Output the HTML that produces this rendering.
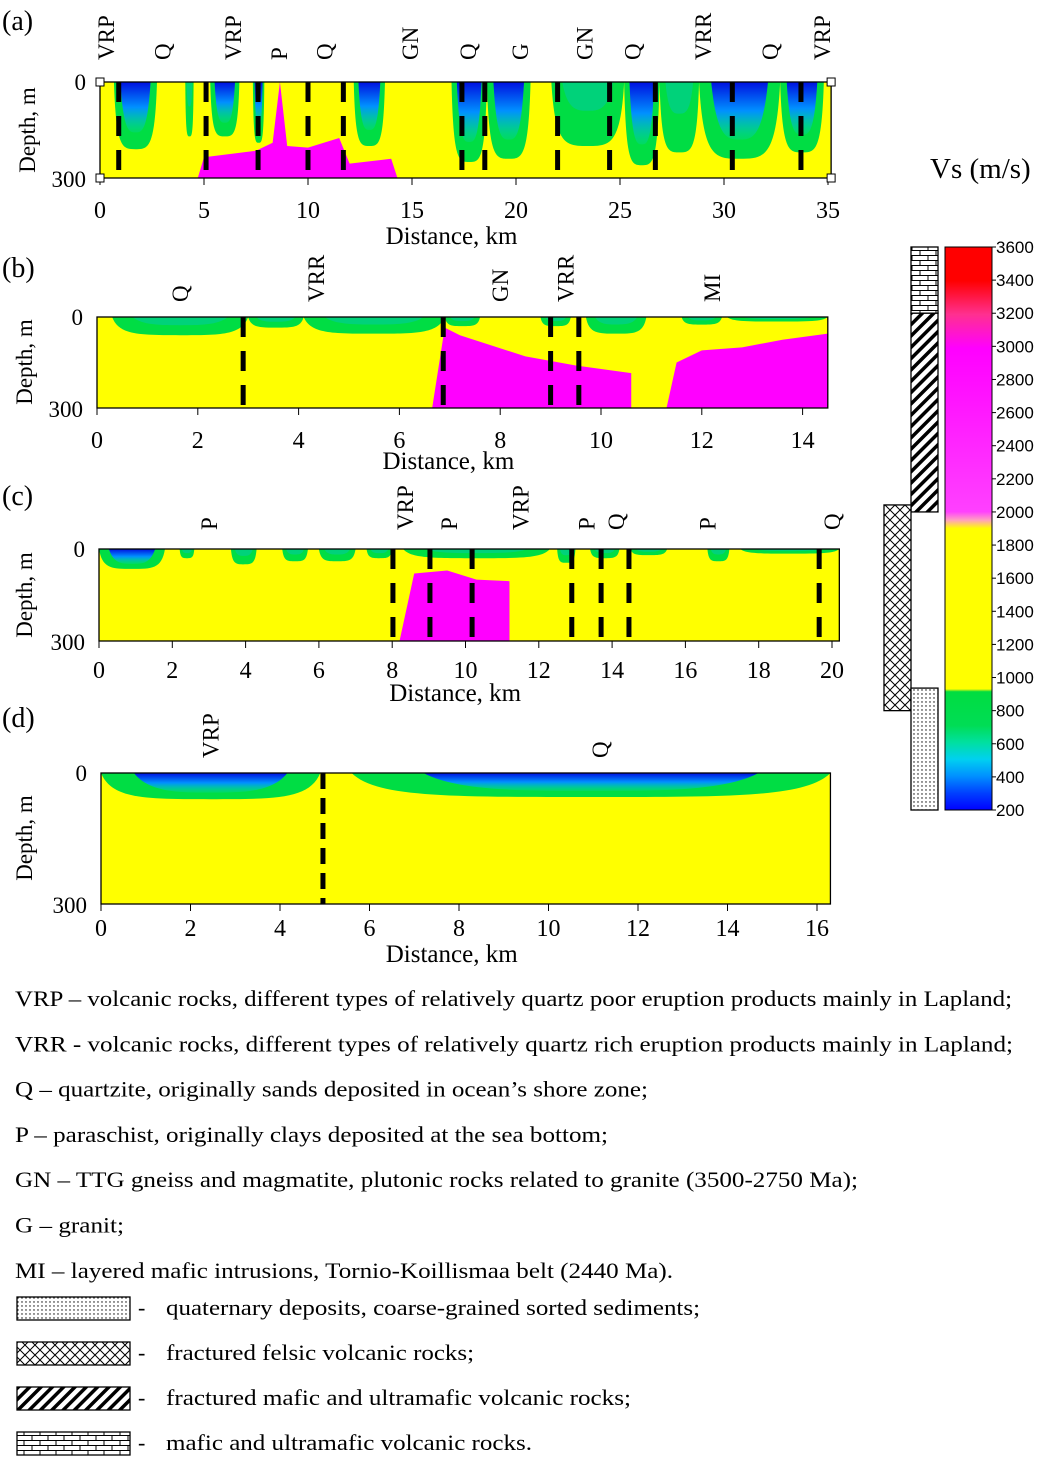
<!DOCTYPE html>
<html><head><meta charset="utf-8">
<style>
html,body{margin:0;padding:0;background:#fff;}
svg{display:block;font-family:"Liberation Serif",serif;}
</style></head>
<body>
<svg id="fig" width="1052" height="1464" viewBox="0 0 1052 1464" xmlns="http://www.w3.org/2000/svg">
<defs>
<linearGradient id="cbar" x1="0" y1="1" x2="0" y2="0">
<stop offset="0" stop-color="#0000ff"/><stop offset="0.03" stop-color="#0040ff"/>
<stop offset="0.06" stop-color="#0090ff"/><stop offset="0.09" stop-color="#00d0f0"/>
<stop offset="0.12" stop-color="#00e0a0"/><stop offset="0.15" stop-color="#00dd55"/>
<stop offset="0.21" stop-color="#00dd40"/><stop offset="0.215" stop-color="#ffff00"/>
<stop offset="0.5" stop-color="#ffff00"/><stop offset="0.515" stop-color="#ffa0c0"/>
<stop offset="0.53" stop-color="#ff40ff"/><stop offset="0.82" stop-color="#ff00ff"/>
<stop offset="0.88" stop-color="#ff3090"/><stop offset="0.94" stop-color="#ff0000"/>
<stop offset="1" stop-color="#ff0000"/>
</linearGradient>
<linearGradient id="blueg" x1="0" y1="0" x2="0" y2="1">
<stop offset="0" stop-color="#0010e0"/><stop offset="0.5" stop-color="#0090ff"/><stop offset="1" stop-color="#00d0d0" stop-opacity="0.2"/>
</linearGradient>
<pattern id="dots" width="4" height="4" patternUnits="userSpaceOnUse"><rect width="4" height="4" fill="#fff"/><circle cx="2" cy="2" r="0.7" fill="#000"/></pattern>
<pattern id="hatch" width="8" height="8" patternUnits="userSpaceOnUse" patternTransform="rotate(45)"><rect width="8" height="8" fill="#fff"/><rect width="3.5" height="8" fill="#000"/></pattern>
<pattern id="cross" width="10" height="10" patternUnits="userSpaceOnUse"><rect width="10" height="10" fill="#fff"/><path d="M0 0 L5 5 L10 0 M0 10 L5 5 L10 10" stroke="#000" stroke-width="1" fill="none"/></pattern>
<pattern id="brick" width="16" height="10" patternUnits="userSpaceOnUse"><rect width="16" height="10" fill="#fff"/><path d="M0 0.5 H16 M0 5.5 H16 M8 0.5 V5.5 M0 5.5 V10 M16 5.5 V10" stroke="#000" stroke-width="1" fill="none"/></pattern>
</defs>
<g id="panels"></g>
<g id="cb"></g>
<g id="legend"></g>
</svg>
<script>
const NS="http://www.w3.org/2000/svg";
const svg=document.getElementById('fig');
function mk(tag,attrs,parent){const e=document.createElementNS(NS,tag);for(const k in attrs)e.setAttribute(k,attrs[k]);(parent||svg).appendChild(e);return e;}

// ---------- DATA ----------
const aFaults=[0.9,5.1,7.6,10.0,11.7,17.4,18.5,22.0,24.5,26.7,30.4,33.7];
const aLabels=["VRP","Q","VRP","P","Q","GN","Q","G","GN","Q","VRR","Q","VRP"];
const aLabelKm=[0.3,3.0,6.4,8.6,10.8,14.9,17.7,20.2,23.3,25.6,29.0,32.2,34.7];
const aTicks=[0,5,10,15,20,25,30,35];
const aPockets=[[0.67,2.74,210,1],[4.1,4.5,170,0],[5.3,6.7,170,1],[7.35,7.9,190,1],[12.2,13.7,200,1],[16.9,18.6,250,1],[18.6,20.7,240,1],[21.7,25.2,200,0],[25.2,26.9,260,1],[26.9,28.8,220,0],[28.8,32.7,240,1],[32.7,34.8,220,1]];
const aMagKm=[4.7,5.0,7.5,8.3,8.65,9.0,10.0,11.5,12.0,14.0,14.3];
const aMagM=[300,235,215,190,0,200,205,175,255,240,300];

const bFaults=[2.9,6.87,9.0,9.56];
const bLabels=["Q","VRR","GN","VRR","MI"];
const bLabelKm=[1.65,4.35,8.0,9.3,12.2];
const bTicks=[0,2,4,6,8,10,12,14];
const bPockets=[[0.3,3.0,60,0],[3.0,4.1,35,0],[4.1,6.9,55,0],[6.9,7.6,30,0],[8.8,9.4,30,0],[9.7,10.9,55,0],[11.6,12.4,25,0],[12.5,14.5,15,0]];
const bMag1Km=[6.65,6.9,7.2,8.5,9.5,10.6,10.6];
const bMag1M=[300,35,60,130,160,185,300];
const bMag2Km=[11.3,11.5,12.0,12.8,13.6,14.5,14.5];
const bMag2M=[300,150,110,100,75,55,300];

const cFaults=[8.02,9.03,10.18,12.9,13.7,14.46,19.65];
const cLabels=["P","VRP","P","VRP","P","Q","P","Q"];
const cLabelKm=[3.0,8.35,9.55,11.5,13.3,14.1,16.6,20.0];
const cTicks=[0,2,4,6,8,10,12,14,16,18,20];
const cPockets=[[0,1.8,65,1],[2.2,2.6,30,0],[3.6,4.3,50,0],[5.0,5.7,40,0],[6.0,7.0,40,0],[7.3,8.0,30,0],[8.3,12.3,30,0],[12.5,13.0,45,0],[13.4,14.2,30,0],[14.5,15.5,20,0],[16.6,17.2,40,0],[17.5,20.2,15,0]];
const cMagKm=[8.2,8.6,9.5,10.3,11.2,11.2];
const cMagM=[300,80,70,100,105,300];

const dFaults=[4.96];
const dLabels=["VRP","Q"];
const dLabelKm=[2.45,11.15];
const dTicks=[0,2,4,6,8,10,12,14,16];
const dPockets=[[0,4.9,60,1],[5.6,16.3,55,1]];

const cbTicks=[3600,3400,3200,3000,2800,2600,2400,2200,2000,1800,1600,1400,1200,1000,800,600,400,200];

// ---------- PANELS ----------
const panels=[
 {id:'a',letter:'(a)',x0:100,kmPx:20.8,maxKm:35.15,y0:82,y1:178,ticks:aTicks,faults:aFaults,labels:aLabels,labelKm:aLabelKm,pockets:aPockets,mags:[[aMagKm,aMagM]],labY:60,tickY:218,titleY:244,letterY:30,depY:130},
 {id:'b',letter:'(b)',x0:97,kmPx:50.4,maxKm:14.5,y0:317,y1:408,ticks:bTicks,faults:bFaults,labels:bLabels,labelKm:bLabelKm,pockets:bPockets,mags:[[bMag1Km,bMag1M],[bMag2Km,bMag2M]],labY:302,tickY:448,titleY:469,letterY:277,depY:362},
 {id:'c',letter:'(c)',x0:99,kmPx:36.65,maxKm:20.2,y0:549,y1:641,ticks:cTicks,faults:cFaults,labels:cLabels,labelKm:cLabelKm,pockets:cPockets,mags:[[cMagKm,cMagM]],labY:530,tickY:678,titleY:701,letterY:505,depY:595},
 {id:'d',letter:'(d)',x0:101,kmPx:44.75,maxKm:16.3,y0:773,y1:904,ticks:dTicks,faults:dFaults,labels:dLabels,labelKm:dLabelKm,pockets:dPockets,mags:[],labY:758,tickY:936,titleY:962,letterY:727,depY:838}
];
const root=document.getElementById('panels');
panels.forEach(p=>{
  const X=km=>p.x0+km*p.kmPx;
  const Y=m=>p.y0+m/300*(p.y1-p.y0);
  const g=mk('g',{},root);
  
  
  const bg=mk('rect',{x:X(0),y:p.y0,width:X(p.maxKm)-X(0),height:p.y1-p.y0,fill:'#ffff00'},g);
  
  
  p.mags.forEach(([ks,ms],i)=>{
    const pts=ks.map((k,j)=>X(k)+','+Y(ms[j])).join(' ');
    const pg=mk('polygon',{points:pts,fill:'#ff00ff'},g);
    
    
  });
  p.pockets.forEach(([s,e,d,blue])=>{
    const x0=X(s),x1=X(e),yt=Y(0),yb=Y(d),w=x1-x0;
    const path=`M${x0},${yt} C${x0+w*0.05},${yb} ${x0+w*0.2},${yb} ${x0+w*0.5},${yb} C${x1-w*0.2},${yb} ${x1-w*0.05},${yb} ${x1},${yt} Z`;
    const pe=mk('path',{d:path,fill:'#00dd44'},g);
    
    
    const db=d*(blue?0.75:0.45), xi0=x0+w*0.15, xi1=x1-w*0.15, wi=xi1-xi0, ybi=Y(db);
    const p2=`M${xi0},${yt} C${xi0+wi*0.1},${ybi} ${xi0+wi*0.3},${ybi} ${xi0+wi*0.5},${ybi} C${xi1-wi*0.3},${ybi} ${xi1-wi*0.1},${ybi} ${xi1},${yt} Z`;
    const pb=mk('path',{d:p2,fill:blue?'url(#blueg)':'#00c8b0',opacity:blue?1:0.5},g);
    
    
  });
  p.faults.forEach(k=>{
    const l=mk('line',{x1:X(k),y1:p.y0,x2:X(k),y2:p.y1,stroke:'#000','stroke-width':5,'stroke-dasharray':(p.id==='d'?'16 9':'20 14')},g);
    
    
  });
  const fr=mk('rect',{x:X(0),y:p.y0,width:X(p.maxKm)-X(0),height:p.y1-p.y0,fill:'none',stroke:'#000','stroke-width':1.3},g);
  
  
  p.ticks.forEach(t=>{
    mk('line',{x1:X(t),y1:p.y1,x2:X(t),y2:p.y1+7,stroke:'#000','stroke-width':1},g);
    const tx=mk('text',{x:X(t),y:p.tickY,'font-size':24,'text-anchor':'middle'},g);
    tx.textContent=t;
    
    
  });
  const t0=mk('text',{x:X(0)-14,y:p.y0+8,'font-size':23,'text-anchor':'end'},g);t0.textContent='0';
  
  const t3=mk('text',{x:X(0)-14,y:p.y1+9,'font-size':23,'text-anchor':'end'},g);t3.textContent='300';
  
  const yt=mk('text',{x:0,y:0,'font-size':23,'text-anchor':'middle',transform:`translate(${p.id==='a'?35:32},${p.depY}) rotate(-90)`},g);
  yt.textContent='Depth, m';
  
  const xt=mk('text',{x:(X(0)+X(p.maxKm))/2-14,y:p.titleY,'font-size':25,'text-anchor':'middle'},g);
  xt.textContent='Distance, km';
  
  const lt=mk('text',{x:2,y:p.letterY,'font-size':28},g);
  lt.textContent=p.letter;
  
  p.labels.forEach((s,i)=>{
    const lb=mk('text',{x:0,y:0,'font-size':23,transform:`translate(${X(p.labelKm[i])+8},${p.labY}) rotate(-90)`},g);
    lb.textContent=s;
    
  });
  if(p.id==='a'){
    [[X(0),p.y0],[X(0),p.y1],[X(p.maxKm),p.y0],[X(p.maxKm),p.y1]].forEach(([cx,cy])=>{
      mk('rect',{x:cx-4,y:cy-4,width:8,height:8,fill:'#fff',stroke:'#000','stroke-width':1},g);
    });
  }
});

// ---------- COLORBAR ----------
const cb=document.getElementById('cb');
const cbTop=247,cbBot=810,cbX=945,cbW=47;
const vY=v=>cbBot-(v-200)/3400*(cbBot-cbTop);
const cbr=mk('rect',{x:cbX,y:cbTop,width:cbW,height:cbBot-cbTop,fill:'url(#cbar)',stroke:'#000','stroke-width':1},cb);

cbTicks.forEach(v=>{
  mk('line',{x1:cbX+cbW,y1:vY(v),x2:cbX+cbW+4,y2:vY(v),stroke:'#000'},cb);
  const t=mk('text',{x:cbX+cbW+4,y:vY(v)+6,'font-size':17,'font-family':'Liberation Sans, sans-serif'},cb);
  t.textContent=v;
  
});
const cbt=mk('text',{x:930,y:178,'font-size':29},cb);cbt.textContent='Vs (m/s)';

[[911,vY(3600),27,vY(3200)-vY(3600),'url(#brick)','column-mafic'],[911,vY(3200),27,vY(2000)-vY(3200),'url(#hatch)','column-fractured-mafic'],[884,vY(2000)-7,27,vY(800)-vY(2000)+7,'url(#cross)','column-felsic'],[911,vY(900)-6,27,vY(200)-vY(900)+6,'url(#dots)','column-quaternary']].forEach(r=>{
  const e=mk('rect',{x:r[0],y:r[1],width:r[2],height:r[3],fill:r[4],stroke:'#000','stroke-width':1.3},cb);
  
});

// ---------- LEGEND ----------
const lg=document.getElementById('legend');
const lines=["VRP – volcanic rocks, different types of relatively quartz poor eruption products mainly in Lapland;","VRR - volcanic rocks, different types of relatively quartz rich eruption products mainly in Lapland;","Q – quartzite, originally sands deposited in ocean’s shore zone;","P – paraschist, originally clays deposited at the sea bottom;","GN – TTG gneiss and magmatite, plutonic rocks related to granite (3500-2750 Ma);","G – granit;","MI – layered mafic intrusions, Tornio-Koillismaa belt (2440 Ma)."];
const lineEnd=[1012,1013,648,608,858,124,673];
lines.forEach((s,i)=>{
  const t=mk('text',{x:15,y:1006+i*45.3,'font-size':22,textLength:lineEnd[i]-15,lengthAdjust:'spacingAndGlyphs'},lg);t.textContent=s;
  
});
const sw=[['url(#dots)','quaternary deposits, coarse-grained sorted sediments;',700],['url(#cross)','fractured felsic volcanic rocks;',474],['url(#hatch)','fractured mafic and ultramafic volcanic rocks;',631],['url(#brick)','mafic and ultramafic volcanic rocks.',532]];
sw.forEach((s,i)=>{
  const y=1297+i*45;
  const r=mk('rect',{x:17,y:y,width:113,height:23,fill:s[0],stroke:'#000','stroke-width':1.3},lg);
  
  const d=mk('text',{x:138,y:y+18,'font-size':22},lg);d.textContent='-';
  
  const t=mk('text',{x:166,y:y+18,'font-size':22,textLength:s[2]-166,lengthAdjust:'spacingAndGlyphs'},lg);t.textContent=s[1];
  
});
</script>
</body></html>
